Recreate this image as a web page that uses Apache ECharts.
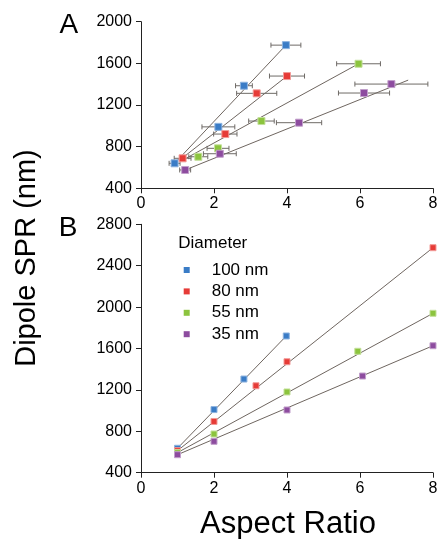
<!DOCTYPE html>
<html>
<head>
<meta charset="utf-8">
<script src="https://cdn.jsdelivr.net/npm/echarts@6/dist/echarts.min.js"></script>
<style>html,body{margin:0;padding:0;background:#fff;}#c{width:448px;height:539px;}</style>
</head>
<body>
<div id="c"></div>
<script>
// ---- Data ----
var names = ['100 nm', '80 nm', '55 nm', '35 nm'];
var colors = ['#3a7cc6', '#e63b37', '#8cc43e', '#8d4c9f'];
var borders = ['#8db3df', '#f29a97', '#c3e09a', '#c29fcb'];

// Panel A: measured aspect ratio, SPR, aspect-ratio error (half width)
var aX_100 = [0.92, 2.12, 2.82, 3.97];
var aY_100 = [640, 990, 1385, 1775];
var aE_100 = [0.15, 0.45, 0.23, 0.41];
var aX_80 = [1.14, 2.31, 3.17, 4.00];
var aY_80 = [688, 921, 1312, 1478];
var aE_80 = [0.23, 0.32, 0.55, 0.48];
var aX_55 = [1.57, 2.11, 3.30, 5.96];
var aY_55 = [703, 784, 1046, 1596];
var aE_55 = [0.26, 0.30, 0.35, 0.60];
var aX_35 = [1.21, 2.16, 4.33, 6.11, 6.86];
var aY_35 = [576, 732, 1030, 1315, 1401];
var aE_35 = [0.15, 0.45, 0.62, 0.70, 1.00];
// Panel A fit lines (endpoints)
var fitAX_100 = [0.92, 3.97], fitAY_100 = [640, 1775];
var fitAX_80 = [1.05, 4.00], fitAY_80 = [668, 1478];
var fitAX_55 = [1.18, 5.96], fitAY_55 = [678, 1596];
var fitAX_35 = [1.21, 7.32], fitAY_35 = [576, 1439];

// Panel B: simulated
var bX_100 = [1, 2, 2.82, 3.98];
var bY_100 = [636, 1010, 1305, 1721];
var bX_80 = [1, 2, 3.15, 4, 8];
var bY_80 = [613, 895, 1240, 1472, 2574];
var bX_55 = [1, 2, 4, 5.94, 8];
var bY_55 = [594, 774, 1180, 1573, 1940];
var bX_35 = [1, 2, 4, 6.07, 8];
var bY_35 = [574, 703, 1006, 1334, 1627];

var xTicks = [0, 2, 4, 6, 8];
var yTicksA = [400, 800, 1200, 1600, 2000];
var yTicksB = [400, 800, 1200, 1600, 2000, 2400, 2800];

// ---- Build ----
function zip(xs, ys, es) {
  return xs.map(function (x, i) { return es ? [x, ys[i], es[i]] : [x, ys[i]]; });
}
var A = [[aX_100, aY_100, aE_100, fitAX_100, fitAY_100],
         [aX_80, aY_80, aE_80, fitAX_80, fitAY_80],
         [aX_55, aY_55, aE_55, fitAX_55, fitAY_55],
         [aX_35, aY_35, aE_35, fitAX_35, fitAY_35]];
var B = [[bX_100, bY_100], [bX_80, bY_80], [bX_55, bY_55], [bX_35, bY_35]];

var FONT = 'Liberation Sans';
var lineCol = '#6f6660';
var errCol = '#6e6a66';

function errRender(params, api) {
  var x = api.value(0), y = api.value(1), e = api.value(2);
  var p1 = api.coord([x - e, y]), p2 = api.coord([x + e, y]);
  var h = 2.5;
  var st = { stroke: errCol, lineWidth: 1 };
  return { type: 'group', children: [
    { type: 'line', shape: { x1: p1[0], y1: p1[1], x2: p2[0], y2: p2[1] }, style: st },
    { type: 'line', shape: { x1: p1[0], y1: p1[1] - h, x2: p1[0], y2: p1[1] + h }, style: st },
    { type: 'line', shape: { x1: p2[0], y1: p2[1] - h, x2: p2[0], y2: p2[1] + h }, style: st }
  ]};
}

var series = [];
B.forEach(function (d, i) {
  var pts = zip(d[0], d[1]);
  series.push({ type: 'line', xAxisIndex: 1, yAxisIndex: 1, data: [pts[0], pts[pts.length - 1]],
    showSymbol: false, symbol: 'none', silent: true, z: 1,
    lineStyle: { color: lineCol, width: 1 }, name: '_fitB' + i });
  series.push({ type: 'scatter', name: names[i], xAxisIndex: 1, yAxisIndex: 1, data: pts,
    symbol: 'rect', symbolSize: 6, z: 5,
    itemStyle: { color: colors[i], borderColor: borders[i], borderWidth: 1, opacity: 1 } });
});
A.forEach(function (d, i) {
  series.push({ type: 'line', xAxisIndex: 0, yAxisIndex: 0, data: zip(d[3], d[4]),
    showSymbol: false, symbol: 'none', silent: true, z: 2,
    lineStyle: { color: lineCol, width: 1 }, name: '_fitA' + i });
  series.push({ type: 'custom', xAxisIndex: 0, yAxisIndex: 0, data: zip(d[0], d[1], d[2]),
    renderItem: errRender, z: 3, silent: true, name: '_errA' + i, encode: { x: 0, y: 1 } });
  series.push({ type: 'scatter', name: names[i], xAxisIndex: 0, yAxisIndex: 0, data: zip(d[0], d[1]),
    symbol: 'rect', symbolSize: 7, z: 5,
    itemStyle: { color: colors[i], borderColor: borders[i], borderWidth: 1, opacity: 1 } });
});

function fmt(v) { return String(v); }
function xAxis(gi, margin) {
  return { type: 'value', gridIndex: gi, min: xTicks[0], max: xTicks[xTicks.length - 1], interval: 2,
    axisLine: { show: true, onZero: false, lineStyle: { color: '#222', width: 1 } },
    axisTick: { show: true, length: 5, lineStyle: { color: '#222' } },
    axisLabel: { fontFamily: FONT, fontSize: 16, color: '#000', margin: margin, formatter: fmt },
    splitLine: { show: false } };
}
function yAxis(gi, ticks) {
  return { type: 'value', gridIndex: gi, min: ticks[0], max: ticks[ticks.length - 1], interval: 400,
    axisLine: { show: true, onZero: false, lineStyle: { color: '#222', width: 1 } },
    axisTick: { show: true, length: 5, lineStyle: { color: '#222' } },
    axisLabel: { fontFamily: FONT, fontSize: 16, color: '#000', margin: 9, formatter: fmt },
    splitLine: { show: false } };
}

var chart = echarts.init(document.getElementById('c'), null, { renderer: 'canvas' });
chart.setOption({
  animation: false,
  backgroundColor: '#fff',
  grid: [
    { left: 141, right: 15, top: 21.7, height: 166.6 },
    { left: 141, right: 15, top: 224.3, height: 248.4 }
  ],
  xAxis: [xAxis(0, 7), xAxis(1, 8)],
  yAxis: [yAxis(0, yTicksA), yAxis(1, yTicksB)],
  legend: {
    data: names, orient: 'vertical', left: 178.7, top: 256.5,
    itemWidth: 6, itemHeight: 6, itemGap: 4.4, icon: 'rect',
    itemStyle: { borderWidth: 0 },
    textStyle: { fontFamily: FONT, fontSize: 17, color: '#000', lineHeight: 17, padding: [0, 0, 0, 17] },
    selectedMode: false
  },
  graphic: [
    { type: 'text', left: 178.3, top: 234.5, style: { text: 'Diameter', font: '17px ' + FONT, fill: '#000' } },
    { type: 'text', x: 68.8, y: 25.5, style: { text: 'A', font: '28px ' + FONT, fill: '#000', align: 'center', verticalAlign: 'middle' } },
    { type: 'text', x: 68, y: 228.7, style: { text: 'B', font: '28px ' + FONT, fill: '#000', align: 'center', verticalAlign: 'middle' } },
    { type: 'text', x: 27, y: 258, rotation: Math.PI / 2, style: { text: 'Dipole SPR (nm)', font: '29px ' + FONT, fill: '#000', align: 'center', verticalAlign: 'middle' } },
    { type: 'text', x: 288, y: 524, style: { text: 'Aspect Ratio', font: '31px ' + FONT, fill: '#000', align: 'center', verticalAlign: 'middle' } }
  ],
  series: series
});
</script>
</body>
</html>
